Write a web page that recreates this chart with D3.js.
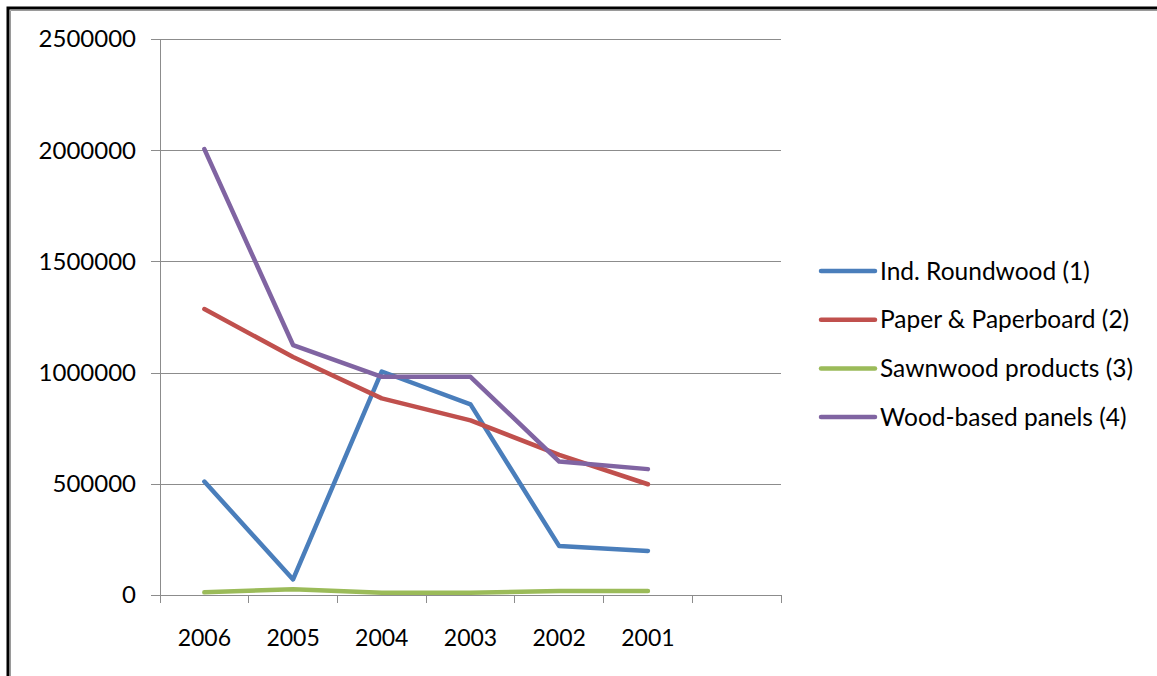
<!DOCTYPE html>
<html>
<head>
<meta charset="utf-8">
<script src="https://cdn.jsdelivr.net/npm/d3@7"></script>
<style>
  body { margin: 0; background: #fff; }
  text { font-family: Lato, "Open Sans", sans-serif; fill: #000; }
</style>
</head>
<body>
<div id="chart"></div>
<script>
// years on the category axis (last slot is empty, as in the original)
const years = ["2006", "2005", "2004", "2003", "2002", "2001", ""];
const yTicks = [0, 500000, 1000000, 1500000, 2000000, 2500000];

const seriesNames = ["Ind. Roundwood (1)", "Paper & Paperboard (2)", "Sawnwood products (3)", "Wood-based panels (4)"];
const seriesColors = ["#4a7ebb", "#c0504d", "#9bbb59", "#8064a2"];

const roundwood = [510000, 70000, 1005000, 857000, 220000, 198000];
const paper = [1286000, 1070000, 884000, 785000, 630000, 498000];
const sawnwood = [12000, 26000, 10000, 10000, 18000, 18000];
const panels = [2005000, 1124000, 981000, 981000, 600000, 566000];

const allSeries = [roundwood, paper, sawnwood, panels];

const W = 1157, H = 676;
const margin = { top: 39, left: 160, right: 376, bottom: 81 };

const svg = d3.select("#chart").append("svg")
    .attr("width", W)
    .attr("height", H);

// outer frame (only top and left are visible in the picture)
svg.append("rect")
    .attr("x", 8).attr("y", 8)
    .attr("width", W + 20).attr("height", H + 20)
    .attr("fill", "none")
    .attr("stroke", "#000")
    .attr("stroke-width", 3);
svg.append("path")
    .attr("d", `M10.5,${H} V10.5 H${W}`)
    .attr("fill", "none")
    .attr("stroke", "#9a9a9a")
    .attr("stroke-width", 1);

const xScale = d3.scaleBand()
    .domain(years)
    .range([margin.left, W - margin.right]);

const yScale = d3.scaleLinear()
    .domain([0, 2500000])
    .range([H - margin.bottom, margin.top]);

const gridColor = "#8c8c8c";

// horizontal gridlines + y ticks
svg.append("g")
    .attr("class", "grid")
    .attr("transform", `translate(${W - margin.right},0)`)
    .call(d3.axisLeft(yScale)
        .tickValues(yTicks)
        .tickSize(W - margin.right - margin.left + 9)
        .tickFormat(""))
    .call(g => g.select(".domain").remove())
    .call(g => g.selectAll("line").attr("stroke", gridColor).attr("shape-rendering", "crispEdges"));

// y axis labels
svg.append("g")
    .selectAll("text")
    .data(yTicks)
    .enter()
    .append("text")
    .attr("x", 136)
    .attr("y", d => yScale(d))
    .attr("dy", "0.35em")
    .attr("text-anchor", "end")
    .style("font-size", "24px")
    .text(d => d);

// y axis line
svg.append("line")
    .attr("x1", margin.left).attr("x2", margin.left)
    .attr("y1", margin.top).attr("y2", yScale(0) + 8)
    .attr("stroke", gridColor)
    .attr("shape-rendering", "crispEdges");

// x axis
const xAxis = g => g
    .attr("transform", `translate(0,${yScale(0)})`)
    .call(d3.axisBottom(xScale).tickSize(0).tickFormat(""))
    .call(g => g.select(".domain").attr("stroke", gridColor).attr("shape-rendering", "crispEdges"));
svg.append("g").call(xAxis);

// category boundary ticks
const bounds = years.map(d => xScale(d)).concat([xScale(years[years.length - 1]) + xScale.bandwidth()]);
svg.append("g")
    .selectAll("line")
    .data(bounds)
    .enter()
    .append("line")
    .attr("x1", d => d).attr("x2", d => d)
    .attr("y1", yScale(0)).attr("y2", yScale(0) + 8)
    .attr("stroke", gridColor)
    .attr("shape-rendering", "crispEdges");

// category labels
svg.append("g")
    .selectAll("text")
    .data(years)
    .enter()
    .append("text")
    .attr("x", d => xScale(d) + xScale.bandwidth() / 2)
    .attr("y", 638)
    .attr("dy", "0.35em")
    .attr("text-anchor", "middle")
    .style("font-size", "23px")
    .text(d => d);

// lines
const line = d3.line()
    .x((d, i) => xScale(years[i]) + xScale.bandwidth() / 2)
    .y(d => yScale(d));

svg.append("g")
    .selectAll("path")
    .data(allSeries)
    .enter()
    .append("path")
    .attr("d", line)
    .attr("fill", "none")
    .attr("stroke", (d, i) => seriesColors[i])
    .attr("stroke-width", 4.5)
    .attr("stroke-linejoin", "round")
    .attr("stroke-linecap", "round");

// legend
const legend = svg.append("g")
    .selectAll("g")
    .data(seriesNames)
    .enter()
    .append("g")
    .attr("transform", (d, i) => `translate(821,${271 + i * 48.7})`);

legend.append("line")
    .attr("x1", 0).attr("x2", 54)
    .attr("stroke", (d, i) => seriesColors[i])
    .attr("stroke-width", 4.5)
    .attr("stroke-linecap", "round");

legend.append("text")
    .attr("x", 59)
    .attr("dy", "0.35em")
    .style("font-size", "24.5px")
    .text(d => d);
</script>
</body>
</html>
